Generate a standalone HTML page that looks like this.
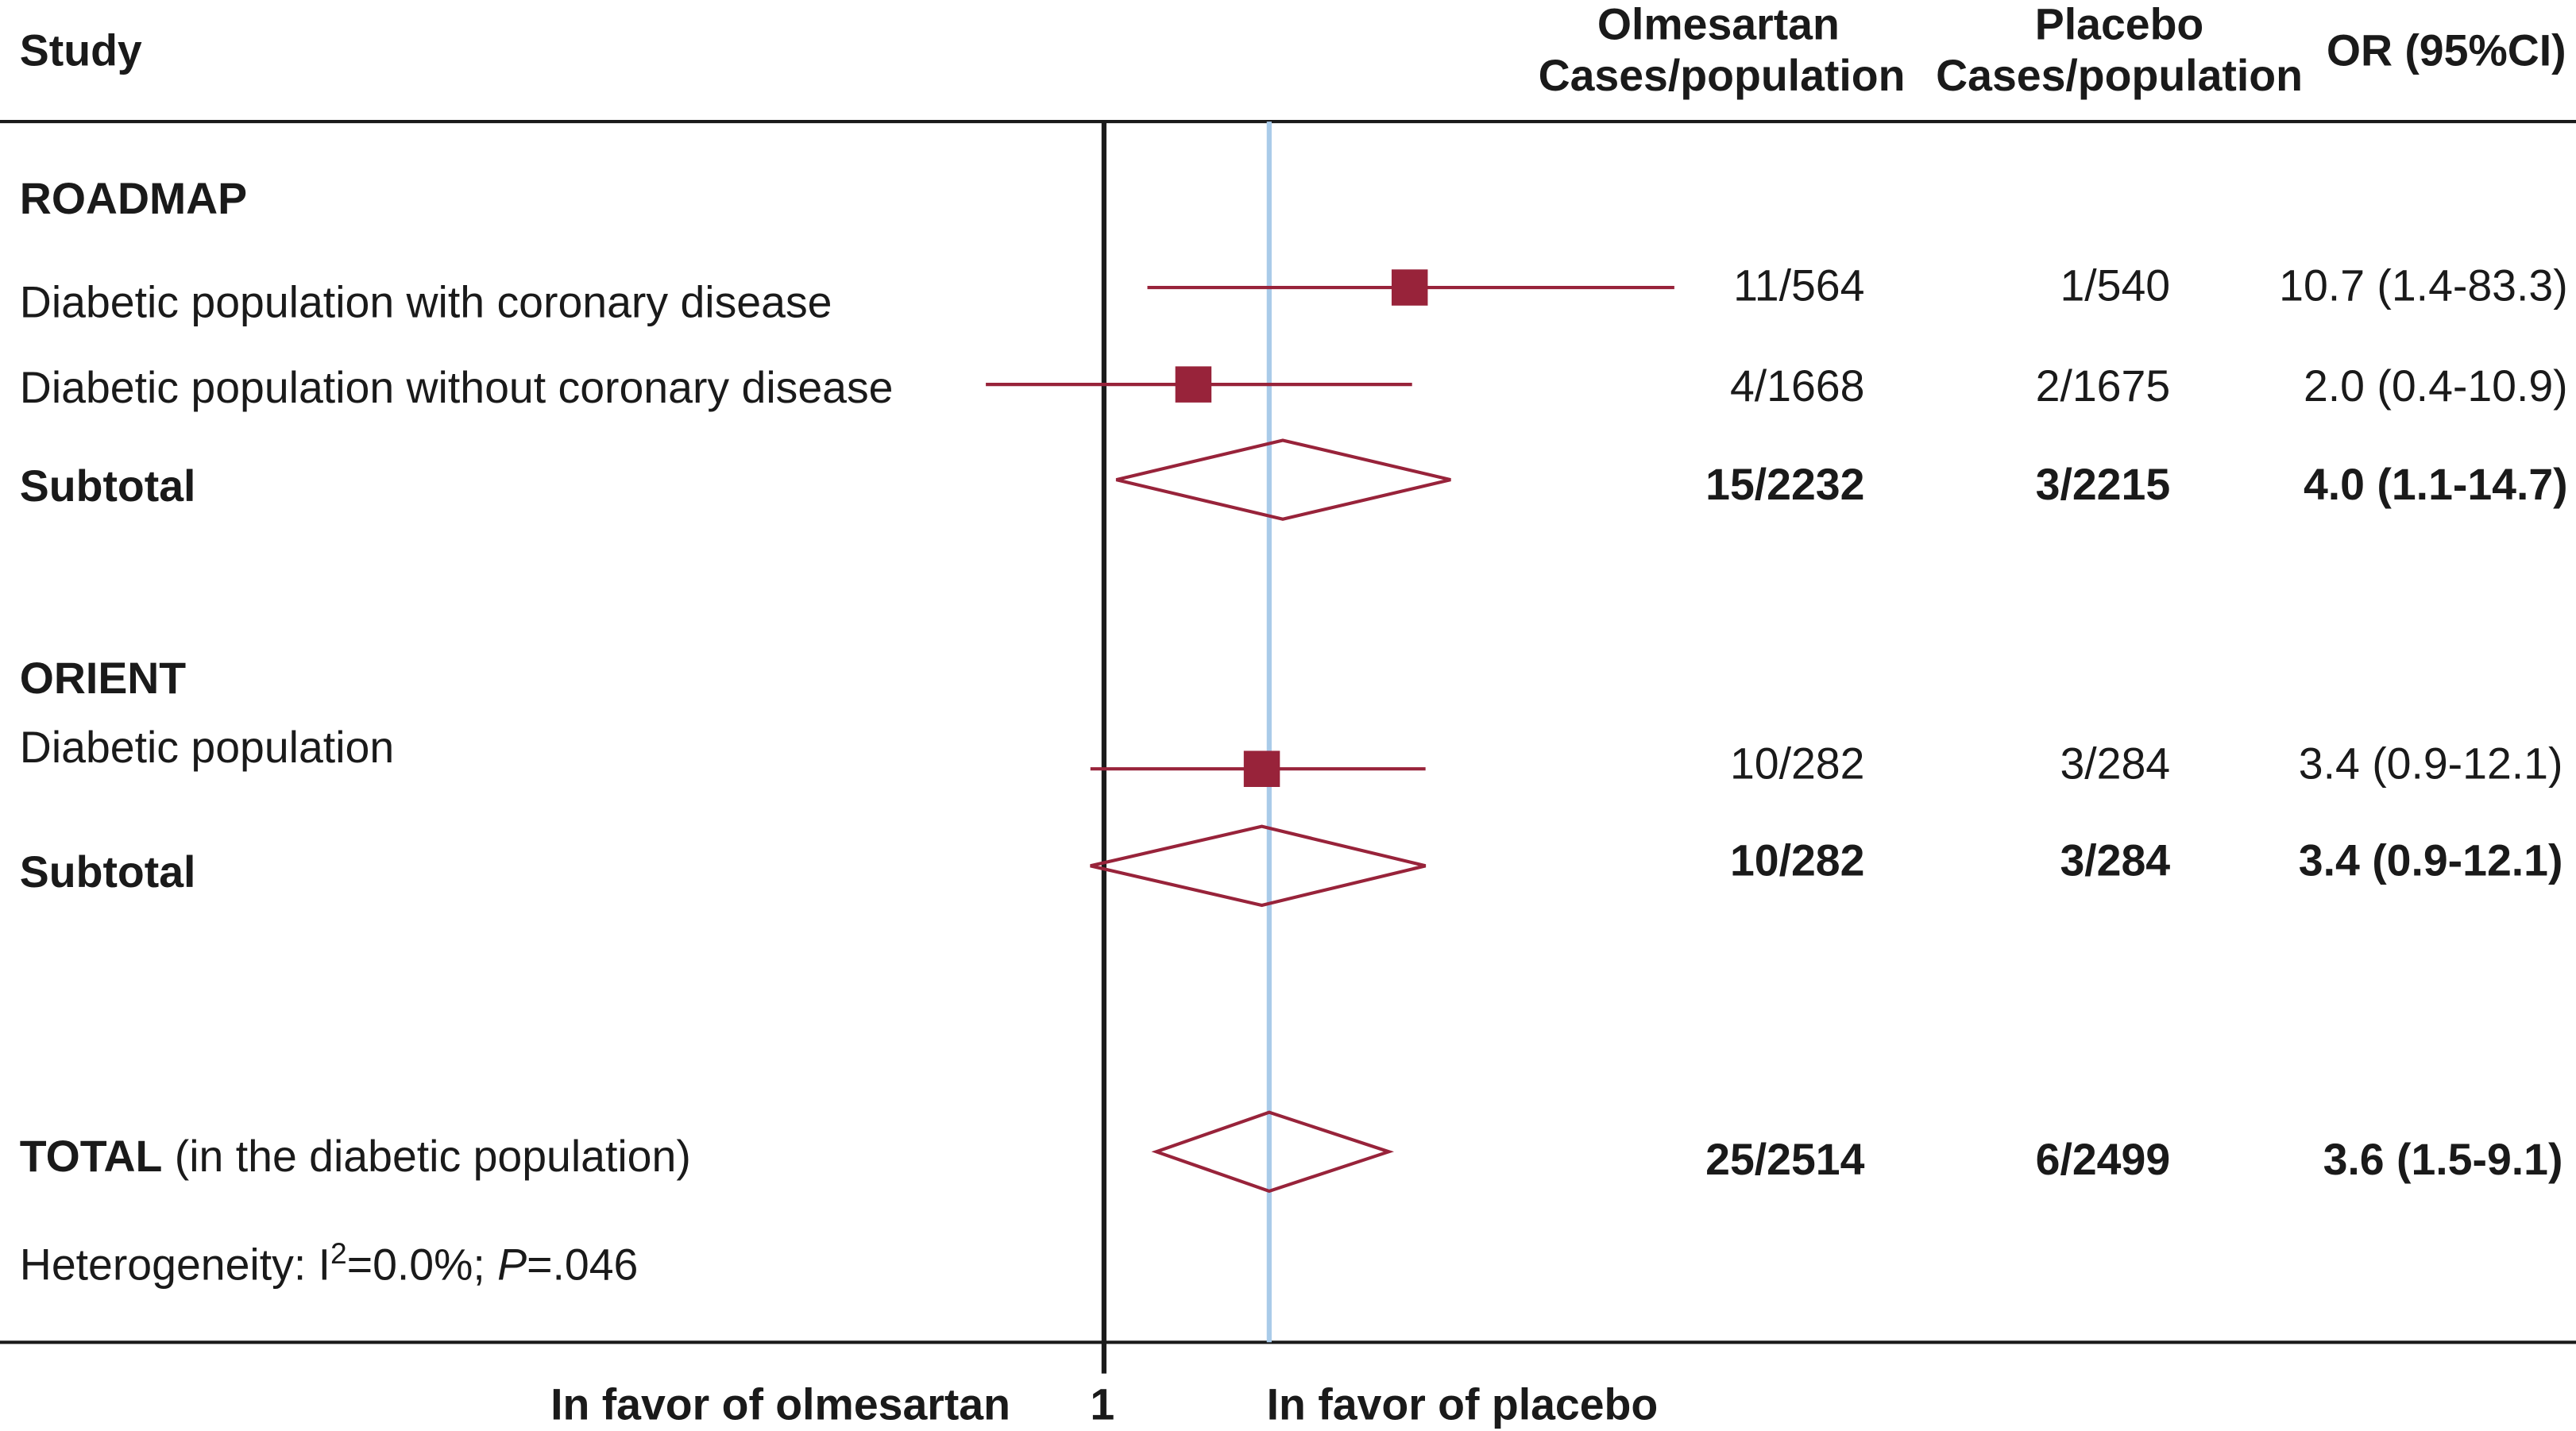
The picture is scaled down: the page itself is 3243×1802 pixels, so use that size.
<!DOCTYPE html>
<html><head><meta charset="utf-8"><style>
html,body{margin:0;padding:0;background:#fff;}
svg{display:block;}
text{font-family:"Liberation Sans",Arial,sans-serif;font-size:26.8px;fill:#1a1a1a;}
.b{font-weight:bold;}
</style></head><body>
<svg id="chart" width="3243" height="1802" viewBox="0 0 1568 871" preserveAspectRatio="none" xmlns="http://www.w3.org/2000/svg">
<g>
<text class="b" x="12" y="40">Study</text>
<text class="b" x="1046" y="24" text-anchor="middle">Olmesartan</text>
<text class="b" x="1048" y="55" text-anchor="middle">Cases/population</text>
<text class="b" x="1290" y="24" text-anchor="middle">Placebo</text>
<text class="b" x="1290" y="55" text-anchor="middle">Cases/population</text>
<text class="b" x="1562" y="40" text-anchor="end">OR (95%CI)</text>
</g>
<line x1="0" y1="74" x2="1568" y2="74" stroke="#1a1a1a" stroke-width="2"/>
<line x1="0" y1="817" x2="1568" y2="817" stroke="#1a1a1a" stroke-width="2"/>
<line id="blue" x1="774" y1="74" x2="774" y2="817" stroke="#a9cbe9" stroke-width="3"/>
<line x1="672" y1="74" x2="672" y2="836" stroke="#1a1a1a" stroke-width="3"/>
<g id="marks"></g>
<g>
<text class="b" x="12" y="130">ROADMAP</text>
<text x="12" y="193">Diabetic population with coronary disease</text>
<text x="12" y="245">Diabetic population without coronary disease</text>
<text class="b" x="12" y="305">Subtotal</text>
<text class="b" x="12" y="422">ORIENT</text>
<text x="12" y="464">Diabetic population</text>
<text class="b" x="12" y="540">Subtotal</text>
<text x="12" y="713"><tspan class="b">TOTAL</tspan> (in the diabetic population)</text>
<text x="12" y="779">Heterogeneity: I<tspan dy="-10" font-size="18">2</tspan><tspan dy="10">=0.0%; </tspan><tspan font-style="italic">P</tspan>=.046</text>
</g>
<g>
<text x="1135" y="183" text-anchor="end">11/564</text>
<text x="1321" y="183" text-anchor="end">1/540</text>
<text x="1563" y="183" text-anchor="end">10.7 (1.4-83.3)</text>
<text x="1135" y="244" text-anchor="end">4/1668</text>
<text x="1321" y="244" text-anchor="end">2/1675</text>
<text x="1563" y="244" text-anchor="end">2.0 (0.4-10.9)</text>
<text class="b" x="1135" y="304" text-anchor="end">15/2232</text>
<text class="b" x="1321" y="304" text-anchor="end">3/2215</text>
<text class="b" x="1563" y="304" text-anchor="end">4.0 (1.1-14.7)</text>
<text x="1135" y="474" text-anchor="end">10/282</text>
<text x="1321" y="474" text-anchor="end">3/284</text>
<text x="1560" y="474" text-anchor="end">3.4 (0.9-12.1)</text>
<text class="b" x="1135" y="533" text-anchor="end">10/282</text>
<text class="b" x="1321" y="533" text-anchor="end">3/284</text>
<text class="b" x="1560" y="533" text-anchor="end">3.4 (0.9-12.1)</text>
<text class="b" x="1135" y="715" text-anchor="end">25/2514</text>
<text class="b" x="1321" y="715" text-anchor="end">6/2499</text>
<text class="b" x="1560" y="715" text-anchor="end">3.6 (1.5-9.1)</text>
</g>
<text class="b" x="615" y="864" text-anchor="end">In favor of olmesartan</text>
<text class="b" x="671" y="864" text-anchor="middle">1</text>
<text class="b" x="771" y="864">In favor of placebo</text>
</svg>
<script>
const studyOR=[10.7,2.0,3.4];
const studyLo=[1.4,0.4,0.9];
const studyHi=[83.3,10.9,12.1];
const studyY=[175,234,468];
const poolOR=[4.0,3.4,3.6];
const poolLo=[1.1,0.9,1.5];
const poolHi=[14.7,12.1,9.1];
const poolY=[292,527,701];
const X0=672,K=78.5;
function x(v){return X0+K*Math.log(v);}
const ns="http://www.w3.org/2000/svg";
const g=document.getElementById('marks');
const C="#98233a";
for(let i=0;i<studyOR.length;i++){
  const l=document.createElementNS(ns,'line');
  l.setAttribute('x1',x(studyLo[i]));l.setAttribute('x2',x(studyHi[i]));
  l.setAttribute('y1',studyY[i]);l.setAttribute('y2',studyY[i]);
  l.setAttribute('stroke',C);l.setAttribute('stroke-width',2);
  
  
  g.appendChild(l);
  const r=document.createElementNS(ns,'rect');
  r.setAttribute('x',x(studyOR[i])-11);r.setAttribute('y',studyY[i]-11);
  r.setAttribute('width',22);r.setAttribute('height',22);r.setAttribute('fill',C);
  
  
  g.appendChild(r);
}
for(let i=0;i<poolOR.length;i++){
  const p=document.createElementNS(ns,'polygon');
  const c=x(poolOR[i]),y=poolY[i];
  p.setAttribute('points',`${x(poolLo[i])},${y} ${c},${y-24} ${x(poolHi[i])},${y} ${c},${y+24}`);
  p.setAttribute('fill','none');p.setAttribute('stroke',C);p.setAttribute('stroke-width',2);
  
  
  g.appendChild(p);
}
const b=document.getElementById('blue');
b.setAttribute('x1',x(poolOR[2]));b.setAttribute('x2',x(poolOR[2]));
</script>
</body></html>
